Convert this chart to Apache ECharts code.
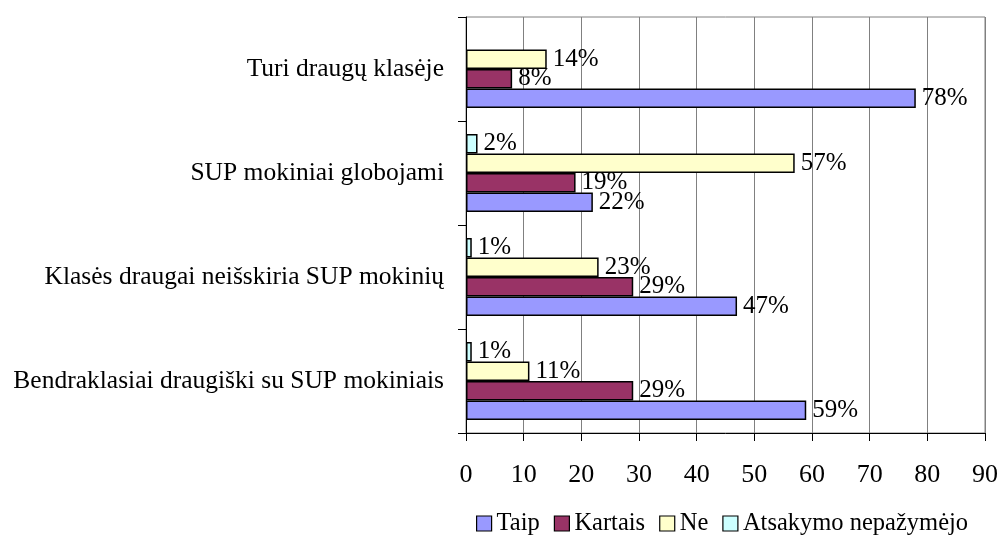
<!DOCTYPE html>
<html>
<head>
<meta charset="utf-8">
<script src="https://cdn.jsdelivr.net/npm/echarts@6/dist/echarts.min.js"></script>
<style>
  html, body { margin: 0; padding: 0; background: #fff; }
  #chart { width: 1001px; height: 539px; }
</style>
</head>
<body>
<div id="chart"></div>
<script>
// klausimai (apačia -> viršus)
var categories = [
  "Bendraklasiai draugiški su SUP mokiniais",
  "Klasės draugai neišskiria SUP mokinių",
  "SUP mokiniai globojami",
  "Turi draugų klasėje"
];
var seriesNames = ["Taip", "Kartais", "Ne", "Atsakymo nepažymėjo"];
var taip = [59, 47, 22, 78];
var kartais = [29, 29, 19, 8];
var ne = [11, 23, 57, 14];
var nepazymejo = [1, 1, 2, null];
var xTicks = [0, 10, 20, 30, 40, 50, 60, 70, 80, 90];

var colors = ["#9999ff", "#993366", "#ffffcc", "#ccffff"];
var values = [taip, kartais, ne, nepazymejo];
var font = "Liberation Serif";

var chart = echarts.init(document.getElementById("chart"));

// echarts deda pirmą seriją viršuje, todėl sukeičiam tvarką
var series = seriesNames.map(function (name, i) {
  return {
    name: name,
    type: "bar",
    data: values[i],
    barGap: "0%",
    barCategoryGap: "25%",
    itemStyle: { color: colors[i], borderColor: "#000", borderWidth: 1.5 },
    label: {
      show: true,
      position: "right",
      distance: 6,
      formatter: "{c}%",
      fontFamily: font,
      fontSize: 25,
      color: "#000"
    }
  };
}).reverse();

chart.setOption({
  animation: false,
  textStyle: { fontFamily: font },
  grid: {
    left: 466, right: 16, top: 17, bottom: 106,
    show: true, borderColor: "#808080", borderWidth: 1
  },
  legend: {
    data: seriesNames,
    left: 471,
    top: 506,
    icon: "rect",
    itemWidth: 15,
    itemHeight: 15,
    itemGap: 14,
    textStyle: { fontFamily: font, fontSize: 24.5, color: "#000" },
    itemStyle: { borderColor: "#000", borderWidth: 1.2 }
  },
  xAxis: {
    type: "value",
    min: xTicks[0],
    max: xTicks[xTicks.length - 1],
    interval: 10,
    axisLine: { show: true, lineStyle: { color: "#000", width: 1 } },
    axisTick: { show: true, inside: false, length: 8, lineStyle: { color: "#000" } },
    axisLabel: { fontFamily: font, fontSize: 26, color: "#000", margin: 29 },
    splitLine: { show: true, lineStyle: { color: "#808080", width: 1 } }
  },
  yAxis: {
    type: "category",
    data: categories,
    axisLine: { show: true, lineStyle: { color: "#000", width: 1 } },
    axisTick: { show: true, length: 8, lineStyle: { color: "#000" } },
    axisLabel: { fontFamily: font, fontSize: 25.5, color: "#000", margin: 22 },
    splitLine: { show: false }
  },
  series: series
});
</script>
</body>
</html>
